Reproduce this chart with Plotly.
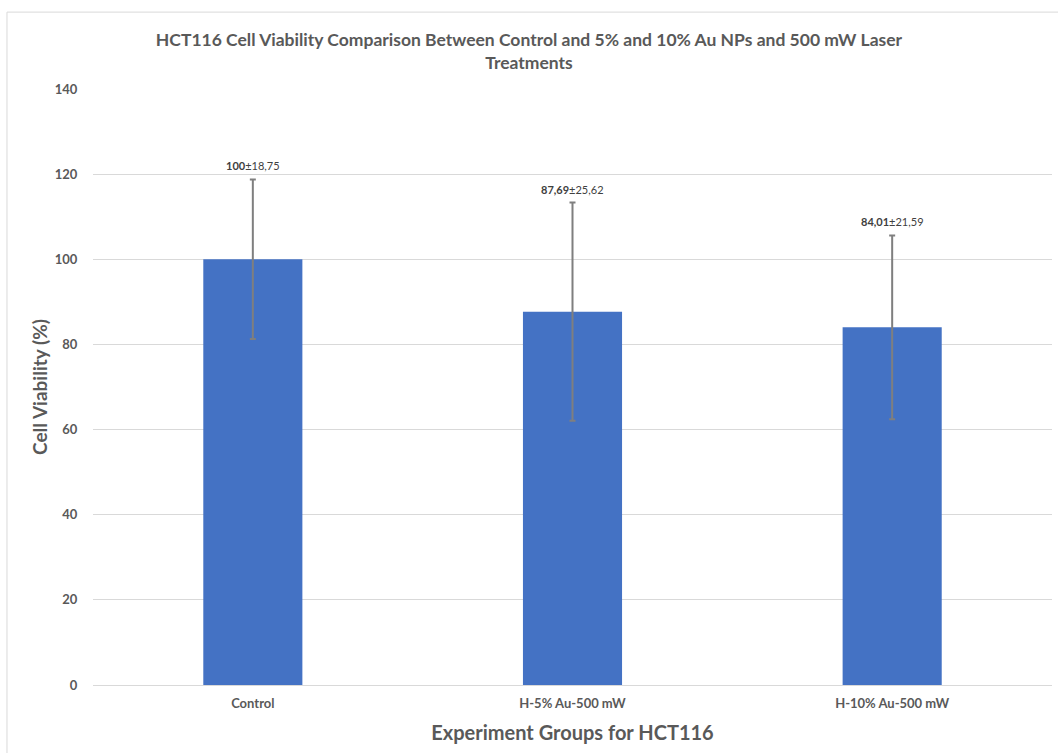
import plotly.graph_objects as go

# Cell viability data (mean ± SD)
groups = ["Control", "H-5% Au-500 mW", "H-10% Au-500 mW"]
means = [100, 87.69, 84.01]
errors = [18.75, 25.62, 21.59]
mean_labels = ["100", "87,69", "84,01"]
error_labels = ["18,75", "25,62", "21,59"]
y_ticks = [0, 20, 40, 60, 80, 100, 120, 140]

FONT = "Lato"
TEXT_GRAY = "#595959"

fig = go.Figure()
fig.add_trace(go.Bar(
    x=groups,
    y=means,
    marker=dict(color="#4472C4", line=dict(width=0)),
    width=0.31,
    error_y=dict(type="data", array=errors, visible=True,
                 color="#7F7F7F", thickness=2, width=3),
    hoverinfo="x+y",
))

# value labels above the error bars
for g, m, e, ml, el in zip(groups, means, errors, mean_labels, error_labels):
    fig.add_annotation(
        x=g, y=m + e, yref="y", xref="x",
        text=f"<b>{ml}</b>±{el}",
        showarrow=False, yanchor="bottom", yshift=5,
        font=dict(family=FONT, size=11, color="#404040"),
    )

# outer chart frame (left and top edges)
fig.add_shape(type="line", xref="paper", yref="paper",
              x0=-0.0897, x1=-0.0897, y0=-0.12, y1=1.129,
              line=dict(color="#D9D9D9", width=1))
fig.add_shape(type="line", xref="paper", yref="paper",
              x0=-0.0897, x1=1.01, y0=1.129, y1=1.129,
              line=dict(color="#D9D9D9", width=1))

fig.update_layout(
    width=1058, height=753,
    margin=dict(l=93, r=6, t=89, b=68),
    paper_bgcolor="white", plot_bgcolor="white",
    showlegend=False,
    title=dict(
        text="<b>HCT116 Cell Viability Comparison Between Control and 5% and 10% Au NPs and 500 mW Laser<br>Treatments</b>",
        x=0.5, xanchor="center", y=1 - 46 / 753, yanchor="top",
        font=dict(family=FONT, size=17.5, color=TEXT_GRAY),
    ),
    xaxis=dict(
        title=dict(text="<b>Experiment Groups for HCT116</b>",
                   font=dict(family=FONT, size=20, color=TEXT_GRAY), standoff=16),
        tickfont=dict(family=FONT, size=13, color=TEXT_GRAY, weight="bold"),
        showline=False, showgrid=False,
        ticks="outside", ticklen=6, tickcolor="white",
    ),
    yaxis=dict(
        title=dict(text="<b>Cell Viability (%)</b>",
                   font=dict(family=FONT, size=19, color=TEXT_GRAY), standoff=2),
        range=[0, 140], tickvals=y_ticks,
        tickfont=dict(family=FONT, size=13, color=TEXT_GRAY, weight="bold"),
        showgrid=True, gridcolor="#D9D9D9", gridwidth=1,
        zeroline=True, zerolinecolor="#D9D9D9", zerolinewidth=1,
        showline=False, ticks="outside", ticklen=12, tickcolor="white",
    ),
)

fig.write_html("out.html")
